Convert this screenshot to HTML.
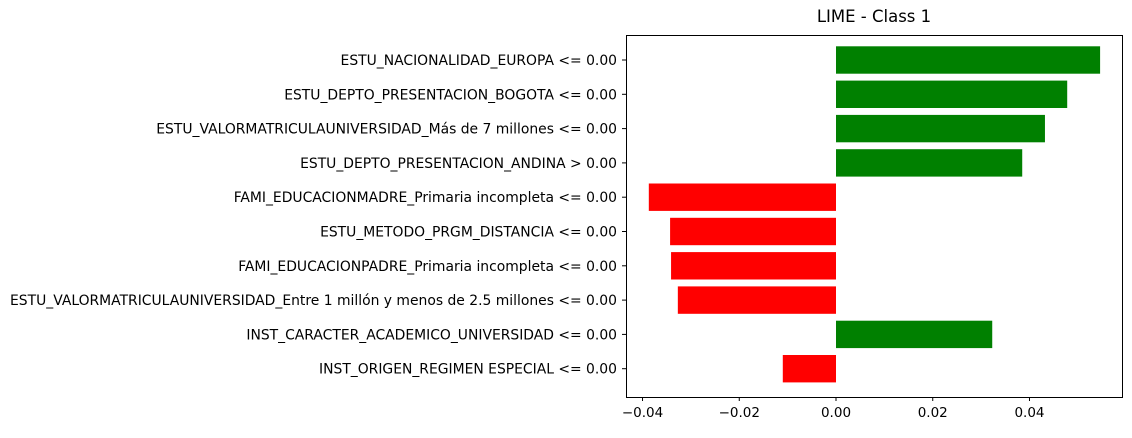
<!DOCTYPE html>
<html><head><meta charset="utf-8"><style>
body{margin:0;background:#fff;font-family:"Liberation Sans","DejaVu Sans",sans-serif}
svg text{font-family:"DejaVu Sans","Liberation Sans",sans-serif}
</style></head><body>
<svg id="chart" width="1132" height="433" xmlns="http://www.w3.org/2000/svg">
<text x="874" y="22" font-size="16.5" text-anchor="middle">LIME - Class 1</text>
<g id="bars"></g><g id="labels"></g><g id="xticks"></g>
<rect x="626.5" y="35.5" width="496" height="362" fill="none" stroke="#000" stroke-width="1"/>
</svg>
<script>
const features=["ESTU_NACIONALIDAD_EUROPA <= 0.00","ESTU_DEPTO_PRESENTACION_BOGOTA <= 0.00","ESTU_VALORMATRICULAUNIVERSIDAD_Más de 7 millones <= 0.00","ESTU_DEPTO_PRESENTACION_ANDINA > 0.00","FAMI_EDUCACIONMADRE_Primaria incompleta <= 0.00","ESTU_METODO_PRGM_DISTANCIA <= 0.00","FAMI_EDUCACIONPADRE_Primaria incompleta <= 0.00","ESTU_VALORMATRICULAUNIVERSIDAD_Entre 1 millón y menos de 2.5 millones <= 0.00","INST_CARACTER_ACADEMICO_UNIVERSIDAD <= 0.00","INST_ORIGEN_REGIMEN ESPECIAL <= 0.00"];
const weights=[0.0546,0.0478,0.0432,0.0385,-0.0387,-0.0343,-0.0341,-0.0327,0.0323,-0.011];
const tickValues=[-0.04,-0.02,0,0.02,0.04];
const tickLabels=["−0.04","−0.02","0.00","0.02","0.04"];
const NS="http://www.w3.org/2000/svg";
const x=v=>836+v*4837;
const rowY=i=>60+i*34.3;
const bh=27.4;
const gb=document.getElementById('bars'),gl=document.getElementById('labels'),gt=document.getElementById('xticks');
weights.forEach((w,i)=>{
 const r=document.createElementNS(NS,'rect');
 
 
 r.setAttribute('x',Math.min(x(0),x(w)));r.setAttribute('width',Math.abs(x(w)-x(0)));
 r.setAttribute('y',rowY(i)-bh/2);r.setAttribute('height',bh);
 r.setAttribute('fill',w>0?'#008000':'#ff0000');gb.appendChild(r);
 const t=document.createElementNS(NS,'line');
 
 
 t.setAttribute('x1',622);t.setAttribute('x2',626);t.setAttribute('y1',rowY(i));t.setAttribute('y2',rowY(i));t.setAttribute('stroke','#000');gl.appendChild(t);
 const l=document.createElementNS(NS,'text');
 
 
 l.setAttribute('x',617);l.setAttribute('y',rowY(i)+5);l.setAttribute('text-anchor','end');l.setAttribute('font-size','13.9');
 l.textContent=features[i];gl.appendChild(l);
});
tickValues.forEach((v,i)=>{
 const t=document.createElementNS(NS,'line');
 
 
 t.setAttribute('x1',x(v));t.setAttribute('x2',x(v));t.setAttribute('y1',397);t.setAttribute('y2',401);t.setAttribute('stroke','#000');gt.appendChild(t);
 const l=document.createElementNS(NS,'text');
 
 
 l.setAttribute('x',x(v));l.setAttribute('y',417);l.setAttribute('text-anchor','middle');l.setAttribute('font-size','13.5');
 l.textContent=tickLabels[i];gt.appendChild(l);
});
</script>
</body></html>
